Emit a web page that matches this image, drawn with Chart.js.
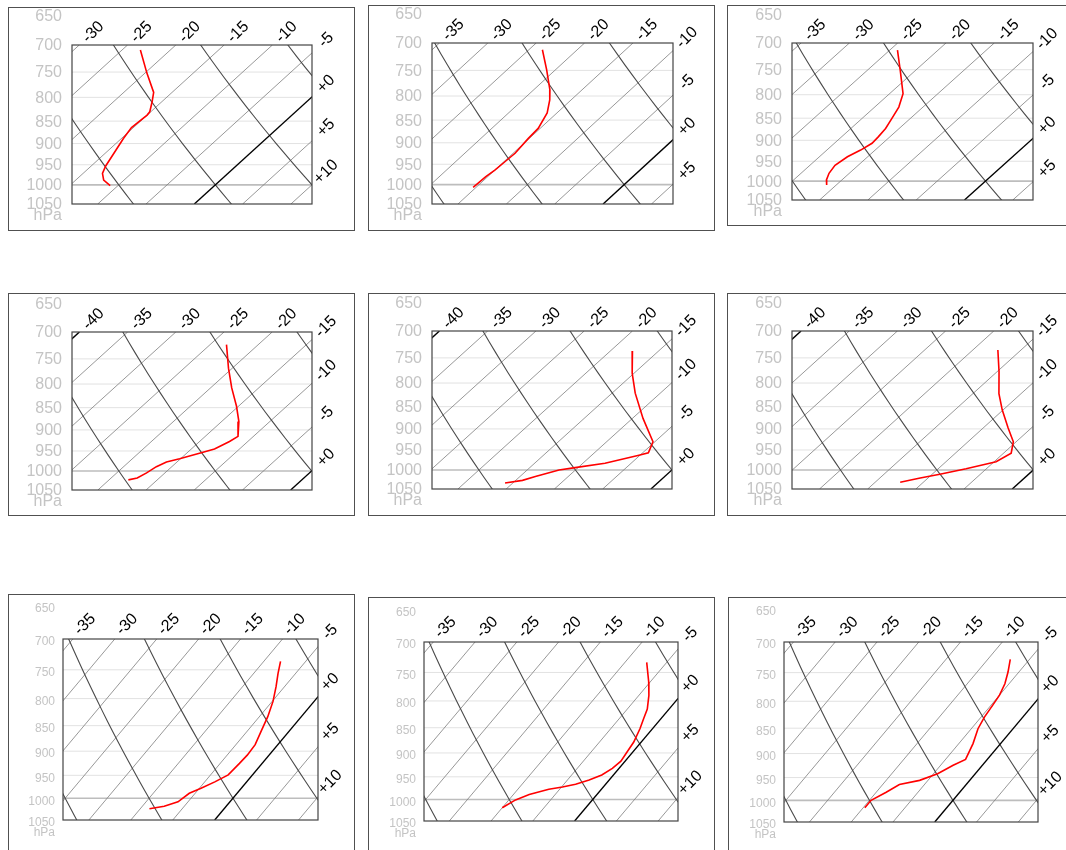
<!DOCTYPE html>
<html>
<head>
<meta charset="utf-8">
<title>Skew-T soundings</title>
<script src="https://cdn.jsdelivr.net/npm/chart.js@4.4.1/dist/chart.umd.min.js"></script>
<style>
  html, body { margin: 0; padding: 0; background: #ffffff; width: 1066px; height: 850px; overflow: hidden; }
  canvas { position: absolute; }
</style>
</head>
<body>
<script>
// Pressure axis labels and interior grid levels (hPa)
const pressureLabels = [650, 700, 750, 800, 850, 900, 950, 1000, 1050];
const gridLevels = [750, 800, 850, 900, 950, 1000];

// Background reference lines (°C)
const isotherms = [-70, -65, -60, -55, -50, -45, -40, -35, -30, -25, -20, -15, -10, -5, 0, 5, 10, 15, 20, 25, 30, 35, 40];
const boldIsotherms = [-40, 0];
const dryAdiabats = [-50, -40, -30, -20, -10, 0, 10, 20, 30, 40, 50, 60];
const adiabatLevels = [640, 660, 680, 700, 720, 740, 760, 780, 800, 820, 840, 860, 880, 900, 920, 940, 960, 980, 1000, 1020, 1040, 1060];

// Temperature soundings: pressure (hPa) and temperature (°C)
const pres1 = [709, 752, 790, 809, 830, 837, 864, 888, 953, 971, 988, 1002];
const temp1 = [-23.1, -19.8, -16.9, -16.0, -15.1, -15.0, -15.2, -14.8, -13.5, -13.0, -12.1, -10.8];

const pres2 = [712, 749, 788, 808, 835, 868, 890, 924, 944, 964, 980, 1007];
const temp2 = [-23.6, -20.9, -18.3, -17.2, -16.0, -15.2, -15.1, -14.8, -14.9, -15.0, -15.2, -15.3];

const pres3 = [713, 751, 798, 826, 851, 873, 892, 907, 923, 939, 960, 980, 997, 1010];
const temp3 = [-24.2, -21.6, -18.6, -17.5, -16.9, -16.4, -16.2, -16.1, -16.5, -17.1, -17.4, -17.1, -16.6, -16.0];

const pres4 = [723, 768, 808, 847, 881, 915, 927, 945, 955, 969, 977, 989, 1005, 1018, 1023];
const temp4 = [-23.3, -20.4, -17.8, -15.2, -13.2, -11.6, -11.9, -12.6, -13.6, -15.1, -16.1, -16.6, -16.9, -17.3, -18.0];

const pres5 = [737, 780, 821, 876, 930, 957, 963, 983, 994, 1000, 1017, 1027, 1034];
const temp5 = [-17.7, -15.2, -12.6, -8.9, -5.2, -4.4, -5.1, -7.7, -10.3, -11.7, -13.4, -14.3, -15.8];

const pres6 = [735, 777, 822, 857, 898, 930, 958, 979, 997, 1011, 1021, 1032];
const temp6 = [-17.4, -14.8, -12.3, -10.1, -7.4, -5.3, -4.2, -4.8, -7.1, -9.2, -10.8, -12.4];

const pres7 = [736, 756, 779, 805, 833, 858, 887, 908, 925, 949, 964, 978, 989, 1008, 1018, 1024];
const temp7 = [-8.0, -7.1, -6.0, -4.9, -4.0, -3.4, -2.7, -2.6, -2.7, -2.9, -3.8, -4.8, -5.7, -6.2, -7.4, -8.9];

const pres8 = [733, 766, 790, 815, 832, 852, 878, 898, 917, 932, 946, 957, 966, 972, 977, 989, 1001, 1019];
const temp8 = [-7.4, -5.2, -3.8, -2.6, -2.1, -1.5, -0.9, -0.7, -0.5, -0.8, -1.4, -2.4, -3.6, -4.9, -6.3, -8.1, -9.2, -10.0];

const pres9 = [728, 749, 769, 789, 807, 829, 851, 880, 912, 924, 942, 956, 965, 982, 1000, 1017];
const temp9 = [-7.3, -6.3, -5.5, -5.0, -4.8, -4.6, -4.2, -3.3, -2.6, -3.5, -4.5, -6.0, -8.0, -8.8, -9.8, -9.8];

// Diagram projection: skewed temperature coordinate on a log-pressure axis
const P_TOP = 700, P_BOT = 1050;
const SKEW = 44.6;
function skewX(t, p) { return t - SKEW * Math.log(p / P_TOP); }
function adiabatTemp(theta, p) { return (theta + 273.15) * Math.pow(p / 1000, 0.2857) - 273.15; }

// Page layout of the nine diagrams: frame [x, y, w, h], plot box [left, top, right, bottom], skewed x window
const panels = [
  { frame: [8, 7, 347, 224],   box: [72, 45, 312, 204],    xRange: [-30.75, -5.9],  pres: pres1, temp: temp1, small: false },
  { frame: [368, 5, 347, 226], box: [432, 43, 673, 204],   xRange: [-35.77, -10.86], pres: pres2, temp: temp2, small: false },
  { frame: [727, 5, 347, 221], box: [792, 43, 1033, 200],  xRange: [-35.94, -10.99], pres: pres3, temp: temp3, small: false },
  { frame: [8, 293, 347, 223], box: [72, 332, 312, 490],   xRange: [-40.77, -15.87], pres: pres4, temp: temp4, small: false },
  { frame: [368, 293, 347, 223], box: [432, 331, 672, 489], xRange: [-40.77, -15.9], pres: pres5, temp: temp5, small: false },
  { frame: [727, 293, 347, 223], box: [792, 331, 1033, 489], xRange: [-40.94, -15.93], pres: pres6, temp: temp6, small: false },
  { frame: [8, 594, 347, 270], box: [63, 639, 318, 820],   xRange: [-36.17, -5.77], pres: pres7, temp: temp7, small: true },
  { frame: [368, 597, 347, 270], box: [424, 642, 678, 821], xRange: [-36.11, -5.71], pres: pres8, temp: temp8, small: true },
  { frame: [728, 597, 347, 270], box: [784, 642, 1038, 822], xRange: [-36.13, -5.73], pres: pres9, temp: temp9, small: true }
];

const FONT = '"Liberation Sans", Arial, Helvetica, sans-serif';

function lineSet(points, color, width) {
  return { data: points, showLine: true, borderColor: color, borderWidth: width, pointRadius: 0, fill: false, tension: 0 };
}

function tempLabel(t) { return t > 0 ? '+' + t : (t === 0 ? '+0' : String(t)); }

function buildPanel(cfg) {
  const [fx, fy, fw, fh] = cfg.frame;
  const [bl, bt, br, bb] = cfg.box;
  const [xmin, xmax] = cfg.xRange;

  const canvas = document.createElement('canvas');
  canvas.width = fw; canvas.height = fh;
  canvas.style.left = fx + 'px'; canvas.style.top = fy + 'px';
  canvas.style.width = fw + 'px'; canvas.style.height = fh + 'px';
  document.body.appendChild(canvas);

  // earlier datasets are painted on top
  const datasets = [];
  datasets.push(lineSet(cfg.pres.map((p, k) => ({ x: skewX(cfg.temp[k], p), y: p })), '#ff0000', 1.6));
  boldIsotherms.forEach(t => datasets.push(lineSet([{ x: skewX(t, P_TOP), y: P_TOP }, { x: skewX(t, P_BOT), y: P_BOT }], '#000000', 1.4)));
  dryAdiabats.forEach(th => datasets.push(lineSet(adiabatLevels.map(p => ({ x: skewX(adiabatTemp(th, p), p), y: p })), '#4a4a4a', 1.1)));
  isotherms.filter(t => !boldIsotherms.includes(t)).forEach(t =>
    datasets.push(lineSet([{ x: skewX(t, P_TOP), y: P_TOP }, { x: skewX(t, P_BOT), y: P_BOT }], '#7e7e7e', 0.8)));
  gridLevels.forEach(p => datasets.push(lineSet([{ x: xmin, y: p }, { x: xmax, y: p }], p === 1000 ? '#bdbdbd' : '#e2e2e2', p === 1000 ? 1.6 : 1)));

  const decor = {
    id: 'skewDecor',
    afterDatasetsDraw(chart) {
      const { ctx, chartArea: a } = chart;
      ctx.save();
      ctx.strokeStyle = '#444444';
      ctx.lineWidth = 1.2;
      ctx.strokeRect(a.left, a.top, a.right - a.left, a.bottom - a.top);
      ctx.restore();
    },
    afterDraw(chart) {
      const { ctx, chartArea: a } = chart;
      const xs = chart.scales.x, ys = chart.scales.y;
      ctx.save();
      // outer frame
      ctx.strokeStyle = '#505050';
      ctx.lineWidth = 1;
      ctx.strokeRect(0.5, 0.5, fw - 1, fh - 1);

      // pressure labels
      const pSize = cfg.small ? 12 : 16;
      const gap = cfg.small ? 8 : 10;
      const shift = cfg.small ? 3 : 1;
      ctx.fillStyle = '#c4c4c4';
      ctx.font = pSize + 'px ' + FONT;
      ctx.textAlign = 'right';
      ctx.textBaseline = 'middle';
      pressureLabels.forEach(p => ctx.fillText(String(p), a.left - gap, ys.getPixelForValue(p) + shift));
      ctx.fillText('hPa', a.left - gap, ys.getPixelForValue(P_BOT) + shift + (cfg.small ? 10 : 11));

      // isotherm labels along the top and right edges
      ctx.fillStyle = '#000000';
      ctx.font = '16px ' + FONT;
      ctx.textAlign = 'center';
      isotherms.filter(t => t % 5 === 0).forEach(t => {
        let cx, cy;
        if (t >= xmin && t <= xmax) {
          cx = xs.getPixelForValue(t); cy = ys.getPixelForValue(P_TOP);
        } else if (t > xmax) {
          const p = P_TOP * Math.exp((t - xmax) / SKEW);
          if (p > P_BOT) return;
          cx = xs.getPixelForValue(xmax); cy = ys.getPixelForValue(p);
        } else return;
        const dx = xs.getPixelForValue(skewX(t, P_TOP)) - xs.getPixelForValue(skewX(t, P_BOT));
        const dy = ys.getPixelForValue(P_TOP) - ys.getPixelForValue(P_BOT);
        const len = Math.hypot(dx, dy);
        const d = 19;
        ctx.save();
        ctx.translate(cx + dx / len * d, cy + dy / len * d);
        ctx.rotate(-Math.PI / 4);
        ctx.fillText(tempLabel(t), 0, 0);
        ctx.restore();
      });
      ctx.restore();
    }
  };

  new Chart(canvas, {
    type: 'scatter',
    data: { datasets },
    options: {
      responsive: false,
      animation: false,
      devicePixelRatio: 1,
      events: [],
      layout: { padding: { left: bl - fx, top: bt - fy, right: fx + fw - br, bottom: fy + fh - bb } },
      scales: {
        x: { type: 'linear', min: xmin, max: xmax, display: false, bounds: 'data' },
        y: { type: 'logarithmic', min: P_TOP, max: P_BOT, reverse: true, display: false, bounds: 'data' }
      },
      plugins: { legend: { display: false }, tooltip: { enabled: false } }
    },
    plugins: [decor]
  });
}

panels.forEach(buildPanel);
</script>
</body>
</html>
